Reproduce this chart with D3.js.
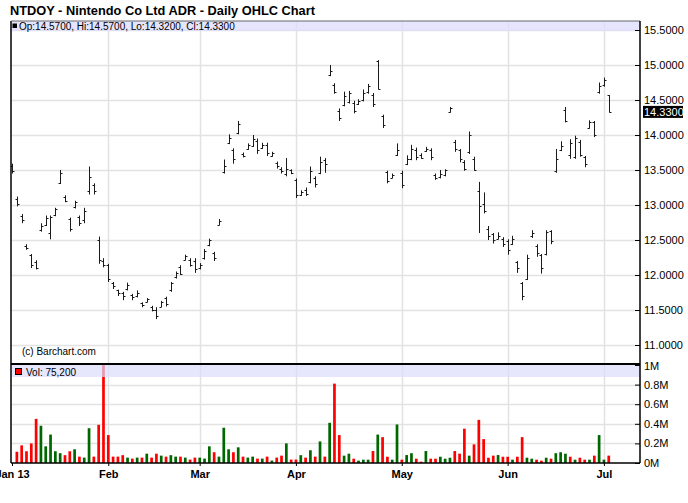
<!DOCTYPE html>
<html><head><meta charset="utf-8">
<script src="https://cdn.jsdelivr.net/npm/d3@7"></script>
<style>
html,body{margin:0;padding:0;background:#fff;}
svg{display:block;font-family:"Liberation Sans",Arial,sans-serif;}
</style></head>
<body><svg id="c" width="688" height="503"></svg>
<script>
// ---- data (trading-day index 0..124, Jan 2013 - Jul 2013) ----
const opens  = [13.55,13.08,12.85,12.42,12.28,12.18,12.64,12.72,12.60,12.86,13.32,13.12,12.80,12.97,12.83,12.78,13.20,13.28,12.50,12.20,
12.14,11.88,11.78,11.74,11.80,11.72,11.70,11.60,11.62,11.55,11.50,11.55,11.67,11.78,11.97,12.12,12.22,12.22,12.20,12.10,
12.24,12.43,12.31,12.72,13.47,13.88,13.78,14.03,13.73,13.80,13.85,13.92,13.81,13.86,13.70,13.60,13.52,13.44,13.50,13.36,
13.14,13.22,13.33,13.38,13.46,13.64,14.86,14.72,14.35,14.43,14.47,14.46,14.44,14.50,14.61,14.57,15.05,14.27,13.47,13.39,
13.72,13.46,13.58,13.66,13.78,13.72,13.77,13.79,13.43,13.40,13.43,14.33,13.90,13.78,13.62,13.76,13.66,13.20,13.02,12.66,
12.58,12.52,12.52,12.48,12.45,12.18,11.88,11.95,12.55,12.42,12.28,12.30,12.63,13.48,13.78,14.36,13.72,13.68,13.90,13.68,
14.10,14.18,14.62,14.71,14.57];
const highs  = [13.59,13.12,12.87,12.44,12.30,12.21,12.74,12.85,12.85,12.96,13.50,13.14,12.82,13.06,12.85,12.96,13.55,13.31,12.55,12.24,
12.16,11.90,11.79,11.76,11.89,11.73,11.78,11.61,11.67,11.56,11.54,11.63,11.69,11.90,12.05,12.14,12.29,12.24,12.24,12.17,
12.37,12.52,12.33,12.80,13.65,14.01,13.81,14.20,13.75,13.88,14.00,13.95,13.89,13.89,13.76,13.62,13.54,13.67,13.51,13.38,
13.21,13.25,13.55,13.41,13.69,13.67,15.00,14.74,14.38,14.62,14.63,14.49,14.51,14.65,14.73,14.60,15.07,14.29,13.49,13.45,
13.88,13.49,13.71,13.86,13.82,13.74,13.83,13.81,13.45,13.50,13.51,14.40,13.93,13.80,13.64,14.05,13.69,13.33,13.18,12.70,
12.60,12.61,12.54,12.51,12.56,12.20,11.90,12.29,12.64,12.44,12.30,12.64,12.64,13.80,13.91,14.40,13.94,13.99,13.93,13.70,
14.21,14.20,14.75,14.82,14.57];
const lows   = [13.45,12.98,12.74,12.36,12.10,12.08,12.62,12.70,12.51,12.84,13.30,13.04,12.62,12.95,12.70,12.74,13.15,13.15,12.16,12.11,
11.90,11.80,11.70,11.64,11.78,11.64,11.68,11.54,11.61,11.48,11.37,11.54,11.55,11.76,11.95,12.00,12.21,12.12,12.03,12.08,
12.22,12.41,12.20,12.71,13.45,13.87,13.59,14.01,13.68,13.79,13.83,13.73,13.80,13.70,13.69,13.52,13.45,13.41,13.44,13.10,
13.13,13.13,13.31,13.25,13.44,13.46,14.84,14.59,14.20,14.41,14.45,14.31,14.43,14.48,14.59,14.40,14.65,14.10,13.31,13.38,
13.70,13.24,13.57,13.64,13.64,13.66,13.76,13.64,13.36,13.38,13.41,14.32,13.76,13.61,13.49,13.73,13.49,12.60,12.88,12.50,
12.45,12.51,12.40,12.29,12.43,12.03,11.64,11.93,12.53,12.26,12.02,12.28,12.44,13.46,13.77,14.18,13.66,13.66,13.69,13.54,
14.09,13.97,14.59,14.69,14.32];
const closes = [13.48,13.02,12.78,12.38,12.14,12.10,12.70,12.82,12.83,12.94,13.46,13.06,12.66,13.04,12.74,12.92,13.40,13.20,12.22,12.14,
11.95,11.84,11.74,11.70,11.86,11.68,11.75,11.57,11.65,11.50,11.42,11.61,11.58,11.88,12.03,12.02,12.27,12.15,12.08,12.15,
12.34,12.50,12.24,12.77,13.55,13.96,13.65,14.15,13.70,13.86,13.95,13.78,13.86,13.74,13.75,13.56,13.48,13.52,13.46,13.14,
13.19,13.16,13.48,13.30,13.62,13.58,14.92,14.62,14.24,14.56,14.60,14.35,14.48,14.60,14.70,14.45,14.66,14.14,13.34,13.43,
13.78,13.28,13.66,13.80,13.68,13.67,13.80,13.68,13.39,13.45,13.50,14.38,13.80,13.65,13.52,14.00,13.50,12.98,12.92,12.56,
12.50,12.56,12.45,12.36,12.52,12.10,11.70,12.25,12.60,12.32,12.10,12.62,12.48,13.65,13.85,14.20,13.88,13.96,13.72,13.58,
14.18,14.00,14.70,14.78,14.33];
const volumes = [null,115000,180000,120000,200000,450000,380000,170000,290000,120000,100000,80000,120000,140000,65000,55000,355000,65000,390000,1100000,
285000,65000,65000,80000,55000,45000,55000,55000,95000,55000,95000,75000,65000,80000,65000,65000,55000,35000,55000,55000,
45000,170000,110000,65000,360000,140000,110000,160000,65000,55000,65000,45000,45000,65000,25000,55000,75000,200000,35000,35000,
80000,55000,130000,65000,220000,65000,410000,810000,285000,75000,95000,44000,24000,34000,34000,122000,290000,264000,64000,34000,
393000,34000,81000,100000,44000,14000,122000,44000,44000,64000,44000,54000,122000,95000,350000,75000,190000,440000,244000,54000,
75000,81000,64000,64000,34000,64000,264000,54000,44000,34000,24000,54000,44000,100000,110000,95000,64000,34000,54000,34000,
34000,75000,285000,34000,75200];
const monthTickIdx = [0,20,39,59,81,103,123];
const monthLabels  = ["Jan 13","Feb","Mar","Apr","May","Jun","Jul"];
const priceTicks = [11.0,11.5,12.0,12.5,13.0,13.5,14.0,14.5,15.0,15.5];
const volTicks = [0,200000,400000,600000,800000,1000000];
const title = "NTDOY - Nintendo Co Ltd ADR - Daily OHLC Chart";

// ---- layout ----
const L = 11, R = 640, PT = 21, PB = 364, VT = 364, VB = 463;
const svg = d3.select("#c");
const x = d3.scaleLinear().domain([0, opens.length - 1]).range([12, 608.7]);
const y = d3.scaleLinear().domain([11.0, 15.5]).range([345, 30]);
const yv = d3.scaleLinear().domain([0, 1000000]).range([VB, 365]);
const UP = "#006600", DN = "#ff0000", GRID = "#e2e2e2";

svg.append("text").attr("x", 10).attr("y", 15).attr("font-size", 12.8).attr("font-weight", "bold").attr("fill", "#000").text(title);

const defs = svg.append("defs");
defs.append("clipPath").attr("id", "pc").append("rect").attr("x", L).attr("y", PT).attr("width", R - L).attr("height", PB - PT);
defs.append("clipPath").attr("id", "vc").append("rect").attr("x", L + 1).attr("y", VT).attr("width", R - L).attr("height", VB - VT);

// gridlines
const g = svg.append("g");
g.selectAll(".hp").data(priceTicks).join("line")
  .attr("x1", L).attr("x2", R).attr("y1", d => Math.round(y(d)) + 0.5).attr("y2", d => Math.round(y(d)) + 0.5)
  .attr("stroke", GRID).attr("stroke-width", 1.5);
g.selectAll(".hv").data(volTicks.slice(1, -1)).join("line")
  .attr("x1", L).attr("x2", R).attr("y1", d => Math.round(yv(d)) + 0.5).attr("y2", d => Math.round(yv(d)) + 0.5)
  .attr("stroke", GRID).attr("stroke-width", 1.5);
g.selectAll(".vg").data(monthTickIdx.slice(1)).join("line")
  .attr("x1", d => Math.round(x(d)) + 0.5).attr("x2", d => Math.round(x(d)) + 0.5).attr("y1", PT).attr("y2", VB)
  .attr("stroke", GRID).attr("stroke-width", 1.5);

// OHLC bars
const bars = svg.append("g").attr("clip-path", "url(#pc)").attr("stroke", "#1a1a1a").attr("stroke-width", 1);
opens.forEach((o, i) => {
  const cx = Math.round(x(i)) + 0.5;
  bars.append("line").attr("x1", cx).attr("x2", cx).attr("y1", y(highs[i])).attr("y2", y(lows[i]));
  bars.append("line").attr("x1", cx - 2).attr("x2", cx).attr("y1", Math.round(y(o)) + 0.5).attr("y2", Math.round(y(o)) + 0.5);
  bars.append("line").attr("x1", cx).attr("x2", cx + 2).attr("y1", Math.round(y(closes[i])) + 0.5).attr("y2", Math.round(y(closes[i])) + 0.5);
});

// volume bars
const vg = svg.append("g").attr("clip-path", "url(#vc)");
vg.selectAll("rect").data(volumes.map((v, i) => ({v, i})).filter(d => d.v != null)).join("rect")
  .attr("x", d => x(d.i) - 1.3).attr("width", 2.7)
  .attr("y", d => yv(d.v)).attr("height", d => VB - yv(d.v))
  .attr("fill", d => (d.i > 0 && closes[d.i] >= closes[d.i - 1]) ? UP : DN);

// legend bands
svg.append("rect").attr("x", L).attr("y", PT).attr("width", R - L).attr("height", 10).attr("fill", "#dcdcfc").attr("opacity", 0.75);
svg.append("rect").attr("x", 12.5).attr("y", 23.5).attr("width", 4.5).attr("height", 4.5).attr("fill", "#000");
const last = opens.length - 1;
const f4 = d3.format(".4f");
svg.append("text").attr("x", 19).attr("y", 29.5).attr("font-size", 10).attr("fill", "#000")
  .text(`Op:${f4(opens[last])}, Hi:${f4(highs[last])}, Lo:${f4(lows[last])}, Cl:${f4(closes[last])}`);

svg.append("rect").attr("x", L + 1).attr("y", VT + 1).attr("width", R - L - 1).attr("height", 12).attr("fill", "#dcdcfc").attr("opacity", 0.7);
svg.append("rect").attr("x", 15.5).attr("y", 368.5).attr("width", 6).attr("height", 6).attr("fill", DN).attr("stroke", "#000").attr("stroke-width", 1);
svg.append("text").attr("x", 26).attr("y", 375.5).attr("font-size", 10).attr("fill", "#000")
  .text("Vol: " + d3.format(",")(volumes[last]));

svg.append("text").attr("x", 22).attr("y", 355).attr("font-size", 10).attr("fill", "#000").text("(c) Barchart.com");

// frames
const fr = svg.append("g").attr("fill", "none").attr("stroke", "#000");
fr.append("line").attr("x1", L).attr("x2", L).attr("y1", PT).attr("y2", VB).attr("stroke-width", 1.5);
fr.append("line").attr("x1", L).attr("x2", R).attr("y1", PT).attr("y2", PT).attr("stroke-width", 1).attr("stroke", "#666");
fr.append("line").attr("x1", L).attr("x2", R).attr("y1", PB).attr("y2", PB).attr("stroke-width", 2);

// axes
const pa = svg.append("g").attr("transform", `translate(${R},0)`)
  .call(d3.axisRight(y).tickValues(priceTicks).tickFormat(f4).tickSizeInner(-5).tickSizeOuter(0).tickPadding(4));
pa.select(".domain").attr("d", `M0,${PT}V${PB}`).attr("stroke-width", 1.5);
pa.selectAll("text").attr("font-size", 11).attr("font-family", "Liberation Sans, Arial, sans-serif").attr("fill", "#000");

const va = svg.append("g").attr("transform", `translate(${R},0)`)
  .call(d3.axisRight(yv).tickValues(volTicks).tickFormat(d => (d / 1e6) + "M").tickSizeInner(-5).tickSizeOuter(0).tickPadding(4));
va.select(".domain").attr("d", `M0,${VT}V${VB}`).attr("stroke-width", 1.5);
va.selectAll("text").attr("font-size", 11).attr("font-family", "Liberation Sans, Arial, sans-serif").attr("fill", "#000");
va.selectAll(".tick").filter(d => d === 1000000).select("text").attr("dy", "0.45em");

const xa = svg.append("g").attr("transform", `translate(0,${VB})`)
  .call(d3.axisBottom(x).tickValues(monthTickIdx).tickFormat((d, i) => monthLabels[i]).tickSizeInner(3).tickSizeOuter(0).tickPadding(4));
xa.select(".domain").attr("d", `M${L},0H${R}`).attr("stroke-width", 1.5);
xa.selectAll("text").attr("font-size", 11).attr("font-weight", "bold").attr("font-family", "Liberation Sans, Arial, sans-serif").attr("fill", "#000");

// last price marker
const lp = y(closes[last]);
svg.append("rect").attr("x", 643).attr("y", lp - 6).attr("width", 40).attr("height", 12).attr("fill", "#000");
svg.append("text").attr("x", 644).attr("y", lp + 4).attr("font-size", 11).attr("fill", "#fff").text(f4(closes[last]));
</script></body></html>
